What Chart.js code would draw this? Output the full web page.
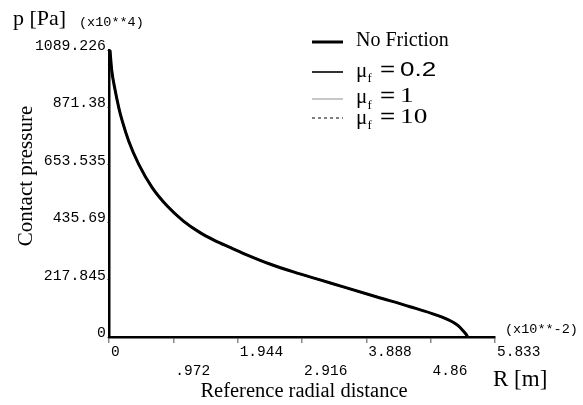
<!DOCTYPE html>
<html>
<head>
<meta charset="utf-8">
<script src="https://cdn.jsdelivr.net/npm/chart.js@4/dist/chart.umd.min.js"></script>
<style>
  html, body { margin: 0; padding: 0; background: #fff; }
  #wrap { width: 583px; height: 405px; position: relative; }
</style>
</head>
<body>
<div id="wrap"><canvas id="c" width="583" height="405"></canvas></div>
<script>
// ---- data (radius in x10^-2 m, pressure in x10^4 Pa) ----
const radius      = [0.015, 0.04, 0.09, 0.15, 0.2, 0.3, 0.45, 0.65, 0.88, 1.12, 1.37, 1.6, 1.83, 2.1, 2.43, 2.8, 3.19, 3.53, 4.05, 4.55, 4.95, 5.2, 5.28, 5.35, 5.4, 5.42];
const pNoFriction = [1089, 1015, 940, 868, 820, 742, 655, 568, 497, 441, 397, 366, 340, 310, 277, 246, 217, 191, 152, 115, 83, 56, 42, 24, 9, 0];
const pMu02       = [1089, 1015, 940, 868, 820, 742, 655, 568, 497, 441, 397, 366, 340, 310, 277, 246, 217, 191, 152, 115, 83, 56, 42, 24, 9, 0];
const pMu1        = [1089, 1015, 940, 868, 820, 742, 655, 568, 497, 441, 397, 366, 340, 310, 277, 246, 217, 191, 152, 115, 83, 56, 42, 24, 9, 0];
const pMu10       = [1089, 1015, 940, 868, 820, 742, 655, 568, 497, 441, 397, 366, 340, 310, 277, 246, 217, 191, 152, 115, 83, 56, 42, 24, 9, 0];

const xTickValues = [0, 0.972, 1.944, 2.916, 3.888, 4.86, 5.833];
const xTickLabels = ['0', '.972', '1.944', '2.916', '3.888', '4.86', '5.833'];
const yTickValues = [0, 217.845, 435.69, 653.535, 871.38, 1089.226];
const yTickLabels = ['0', '217.845', '435.69', '653.535', '871.38', '1089.226'];

const legendItems = [
  { name: 'No Friction', mu: null },
  { name: 'μ', mu: '0.2' },
  { name: 'μ', mu: '1' },
  { name: 'μ', mu: '10' }
];

// ---- styles ----
const styles = [
  { color: '#000000', width: 3,   dash: [] },
  { color: '#333333', width: 2,   dash: [] },
  { color: '#b5b5b5', width: 1.5, dash: [] },
  { color: '#000000', width: 1,   dash: [3, 3] }
];

const toXY = arr => radius.map((r, i) => ({ x: r, y: arr[i] }));
const series = [pNoFriction, pMu02, pMu1, pMu10];

const datasets = series.map((arr, i) => ({
  label: legendItems[i].mu ? 'mu_f = ' + legendItems[i].mu : legendItems[i].name,
  data: toXY(arr),
  borderColor: styles[i].color,
  borderWidth: styles[i].width,
  borderDash: styles[i].dash,
  pointRadius: 0,
  fill: false,
  cubicInterpolationMode: 'monotone',
  clip: false,
  order: i === 0 ? 0 : 4 - i
}));

const MONO = '"Liberation Mono", "DejaVu Sans Mono", monospace';
const SERIF = '"Liberation Serif", "DejaVu Serif", serif';
const SANS = '"Liberation Sans", Arial, sans-serif';

const bgPlugin = {
  id: 'bg',
  beforeDraw(chart) {
    const ctx = chart.ctx;
    ctx.save();
    ctx.fillStyle = '#fff';
    ctx.fillRect(0, 0, chart.width, chart.height);
    ctx.restore();
  }
};

function stretchText(ctx, text, x, y, sx) {
  ctx.save();
  ctx.translate(x, y);
  ctx.scale(sx, 1);
  ctx.fillText(text, 0, 0);
  ctx.restore();
}

const decorPlugin = {
  id: 'decor',
  afterDraw(chart) {
    const ctx = chart.ctx;
    ctx.save();
    ctx.fillStyle = '#000';
    ctx.textBaseline = 'middle';
    // y axis title
    ctx.font = '22px ' + SERIF;
    ctx.textAlign = 'left';
    ctx.fillText('p [Pa]', 13, 19);
    ctx.font = '13.5px ' + MONO;
    ctx.fillText('(x10**4)', 79, 22);
    // rotated
    ctx.save();
    ctx.translate(26, 176);
    ctx.rotate(-Math.PI / 2);
    ctx.textAlign = 'center';
    ctx.font = '21px ' + SERIF;
    ctx.fillText('Contact pressure', 0, 0);
    ctx.restore();
    // x axis titles
    ctx.textAlign = 'center';
    ctx.font = '20.5px ' + SERIF;
    ctx.fillText('Reference radial distance', 304, 392);
    ctx.textAlign = 'left';
    ctx.font = '23px ' + SERIF;
    ctx.fillText('R [m]', 493, 380);
    ctx.font = '13.5px ' + MONO;
    ctx.fillText('(x10**-2)', 505, 329);

    // legend
    const lineY = [42, 72, 99, 118];
    const textY = [41, 70, 96.5, 117];
    legendItems.forEach((it, i) => {
      const y = lineY[i];
      const ty = textY[i];
      const s = styles[i];
      ctx.save();
      ctx.strokeStyle = s.color;
      ctx.lineWidth = s.width;
      ctx.setLineDash(s.dash);
      ctx.beginPath();
      ctx.moveTo(312, y);
      ctx.lineTo(343, y);
      ctx.stroke();
      ctx.restore();
      ctx.textAlign = 'left';
      if (!it.mu) {
        ctx.font = '20px ' + SERIF;
        ctx.fillText(it.name, 356, ty);
      } else {
        ctx.font = '21px ' + SERIF;
        ctx.fillText(it.name, 356, ty + 1);
        ctx.font = '13px ' + SERIF;
        ctx.fillText('f', 367.5, ty + 9);
        ctx.font = '20px ' + SANS;
        stretchText(ctx, '=', 380, ty, 1.3);
        ctx.font = (it.mu === '0.2' ? '20px ' + SANS : '21px ' + SERIF);
        stretchText(ctx, it.mu, 400, ty, 1.3);
      }
    });
    ctx.restore();
  }
};

new Chart(document.getElementById('c'), {
  type: 'line',
  data: { datasets },
  options: {
    responsive: false,
    animation: false,
    events: [],
    layout: { padding: { left: 0, top: 50, right: 88, bottom: 0 } },
    plugins: { legend: { display: false }, tooltip: { enabled: false } },
    scales: {
      x: {
        type: 'linear',
        min: 0,
        max: 5.833,
        afterBuildTicks: s => { s.ticks = xTickValues.map(v => ({ value: v })); },
        afterFit: s => { s.height = 68; },
        border: { display: true, color: '#000', width: 2.5 },
        grid: { drawOnChartArea: false, drawTicks: true, tickLength: 6, color: '#8a8a8a', lineWidth: 1.5 },
        ticks: {
          autoSkip: false,
          maxRotation: 0,
          minRotation: 0,
          align: 'start',
          padding: 0,
          labelOffset: 2,
          color: '#000',
          font: { family: MONO, size: 14.5, lineHeight: 1.3 },
          callback: (v, i) => (i % 2 === 1 ? ['', xTickLabels[i]] : xTickLabels[i])
        }
      },
      y: {
        type: 'linear',
        min: 0,
        max: 1089.226,
        afterBuildTicks: s => { s.ticks = yTickValues.map(v => ({ value: v })); },
        afterFit: s => { s.width = 109; },
        border: { display: true, color: '#000', width: 2.5 },
        grid: { drawOnChartArea: false, drawTicks: true, tickLength: 2, color: '#999', lineWidth: 1 },
        ticks: {
          autoSkip: false,
          padding: 1,
          labelOffset: -4,
          color: '#000',
          font: { family: MONO, size: 14.8 },
          callback: (v, i) => yTickLabels[i]
        }
      }
    }
  },
  plugins: [bgPlugin, decorPlugin]
});
</script>
</body>
</html>
